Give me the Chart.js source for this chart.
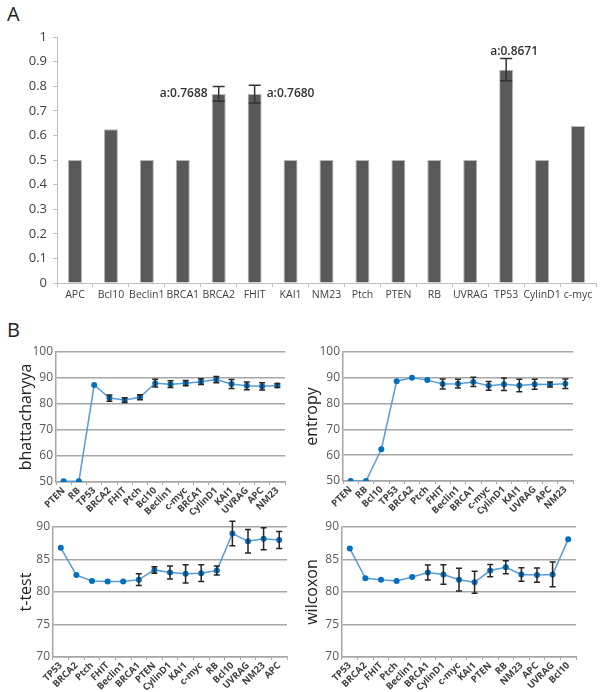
<!DOCTYPE html>
<html lang="en">
<head>
<meta charset="UTF-8">
<title>Gene scores</title>
<script src="https://cdn.jsdelivr.net/npm/chart.js"></script>
<style>
  body { margin: 0; background: #fff; }
  #wrap { position: relative; width: 600px; height: 692px; overflow: hidden; font-family: "Open Sans", sans-serif; }
  canvas { position: absolute; }
  .tag { position: absolute; font-size: 20px; color: #222; }
</style>
</head>
<body>
<div id="wrap">
  <div class="tag" style="left:7px;top:0px">A</div>
  <div class="tag" style="left:7px;top:316px">B</div>
  <canvas id="barA" style="left:0;top:0" width="600" height="310"></canvas>
  <canvas id="bh" style="left:0;top:340px" width="300" height="175"></canvas>
  <canvas id="en" style="left:300px;top:340px" width="300" height="175"></canvas>
  <canvas id="tt" style="left:0;top:515px" width="300" height="177"></canvas>
  <canvas id="wx" style="left:300px;top:515px" width="300" height="177"></canvas>
</div>
<script>
// panel A
const genesA = ['APC', 'Bcl10', 'Beclin1', 'BRCA1', 'BRCA2', 'FHIT', 'KAI1', 'NM23', 'Ptch', 'PTEN', 'RB', 'UVRAG', 'TP53', 'CylinD1', 'c-myc'];
const scoreA = [0.5, 0.625, 0.5, 0.5, 0.7688, 0.768, 0.5, 0.5, 0.5, 0.5, 0.5, 0.5, 0.8671, 0.5, 0.638];
const errA = [0, 0, 0, 0, 0.03, 0.036, 0, 0, 0, 0, 0, 0, 0.045, 0, 0];
const noteA = ['', '', '', '', 'a:0.7688', 'a:0.7680', '', '', '', '', '', '', 'a:0.8671', '', ''];
const ticksA = [0, 0.1, 0.2, 0.3, 0.4, 0.5, 0.6, 0.7, 0.8, 0.9, 1];

// panel B
const genesBh = ['PTEN', 'RB', 'TP53', 'BRCA2', 'FHIT', 'Ptch', 'Bcl10', 'Beclin1', 'c-myc', 'BRCA1', 'CylinD1', 'KAI1', 'UVRAG', 'APC', 'NM23'];
const valBh = [50.3, 50.3, 87.3, 82.3, 81.5, 82.6, 88.0, 87.6, 88.0, 88.6, 89.4, 87.7, 87.0, 86.8, 87.1];
const errBh = [0, 0, 0, 1.2, 0.9, 1.0, 1.5, 1.3, 1.0, 1.1, 1.2, 1.7, 1.5, 1.4, 0.8];

const genesEn = ['PTEN', 'RB', 'Bcl10', 'TP53', 'BRCA2', 'Ptch', 'FHIT', 'Beclin1', 'BRCA1', 'c-myc', 'CylinD1', 'KAI1', 'UVRAG', 'APC', 'NM23'];
const valEn = [50, 50, 62.3, 88.7, 90.0, 89.1, 87.6, 87.7, 88.4, 86.9, 87.5, 87.0, 87.5, 87.4, 87.7];
const errEn = [0, 0, 0, 0, 0, 0, 1.9, 1.7, 1.8, 1.7, 2.4, 2.4, 1.9, 1.0, 1.8];

const genesTt = ['TP53', 'BRCA2', 'Ptch', 'FHIT', 'Beclin1', 'BRCA1', 'PTEN', 'CylinD1', 'KAI1', 'c-myc', 'RB', 'Bcl10', 'UVRAG', 'NM23', 'APC'];
const valTt = [86.8, 82.6, 81.7, 81.6, 81.6, 81.9, 83.4, 83.0, 82.8, 82.9, 83.3, 89.0, 87.8, 88.2, 88.0];
const errTt = [0, 0, 0, 0, 0, 0.9, 0.5, 1.0, 1.4, 1.3, 0.7, 1.9, 1.8, 1.7, 1.3];

const genesWx = ['TP53', 'BRCA2', 'FHIT', 'Ptch', 'Beclin1', 'BRCA1', 'CylinD1', 'c-myc', 'KAI1', 'PTEN', 'RB', 'NM23', 'APC', 'UVRAG', 'Bcl10'];
const valWx = [86.7, 82.1, 81.9, 81.7, 82.3, 83.0, 82.7, 81.9, 81.5, 83.3, 83.8, 82.7, 82.6, 82.7, 88.1];
const errWx = [0, 0, 0, 0, 0, 1.15, 1.5, 1.75, 1.7, 0.95, 1.0, 1.05, 1.1, 1.9, 0];

// error bars + bar notes, drawn through the chart scales
const errPlugin = {
  id: 'errbars',
  afterDatasetsDraw(chart, args, opts) {
    if (!opts.err) return;
    const ctx = chart.ctx, x = chart.scales.x, y = chart.scales.y;
    const vals = chart.data.datasets[0].data;
    ctx.save();
    ctx.strokeStyle = opts.color;
    ctx.lineWidth = opts.width;
    opts.err.forEach((e, i) => {
      if (!e) return;
      const px = x.getPixelForValue(i);
      const top = y.getPixelForValue(vals[i] + e), bot = y.getPixelForValue(vals[i] - e);
      ctx.beginPath();
      ctx.moveTo(px, top); ctx.lineTo(px, bot);
      ctx.moveTo(px - opts.cap, top); ctx.lineTo(px + opts.cap, top);
      ctx.moveTo(px - opts.cap, bot); ctx.lineTo(px + opts.cap, bot);
      ctx.stroke();
    });
    if (opts.notes) {
      ctx.fillStyle = '#333';
      ctx.font = '600 12px "Open Sans"';
      ctx.textBaseline = 'middle';
      const half = x.width / vals.length * 0.39 / 2;
      opts.notes.forEach((t, i) => {
        if (!t) return;
        const px = x.getPixelForValue(i);
        const side = opts.sides[i];
        if (side === 'left') {
          ctx.textAlign = 'right';
          ctx.fillText(t, px - half - 4, y.getPixelForValue(vals[i]));
        } else if (side === 'right') {
          ctx.textAlign = 'left';
          ctx.fillText(t, px + half + 5, y.getPixelForValue(vals[i]));
        } else {
          ctx.textAlign = 'center';
          ctx.fillText(t, px + 8, y.getPixelForValue(vals[i] + errA[i]) - 7);
        }
      });
    }
    ctx.restore();
  }
};
Chart.register(errPlugin);

new Chart(document.getElementById('barA'), {
  type: 'bar',
  data: {
    labels: genesA,
    datasets: [{
      data: scoreA,
      backgroundColor: '#595959',
      borderColor: '#b8b8b8',
      borderWidth: 1,
      barPercentage: 0.39,
      categoryPercentage: 1
    }]
  },
  options: {
    responsive: false,
    animation: false,
    layout: { padding: { top: 37, right: 4, left: 0, bottom: 0 } },
    plugins: {
      legend: { display: false },
      tooltip: { enabled: false },
      errbars: {
        err: errA, color: '#333', width: 1.5, cap: 6,
        notes: noteA,
        sides: ['', '', '', '', 'left', 'right', '', '', '', '', '', '', 'top', '', '']
      }
    },
    scales: {
      x: {
        grid: { drawOnChartArea: false, color: '#bfbfbf', tickLength: 4 },
        border: { color: '#bfbfbf' },
        ticks: { color: '#404040', font: { family: 'Open Sans', size: 10.5 }, maxRotation: 0, padding: 2, autoSkip: false },
        afterFit: s => { s.height = 27; }
      },
      y: {
        min: 0, max: 1,
        afterBuildTicks: s => { s.ticks = ticksA.map(v => ({ value: v })); },
        grid: { drawOnChartArea: false, color: '#bfbfbf', tickLength: 4 },
        border: { color: '#bfbfbf' },
        ticks: { color: '#404040', font: { family: 'Open Sans', size: 13 }, padding: 6, callback: v => String(v) },
        afterFit: s => { s.width = 57; }
      }
    }
  }
});

function lineChart(id, labels, vals, errs, yMin, yMax, step, title, box) {
  new Chart(document.getElementById(id), {
    type: 'line',
    data: {
      labels: labels,
      datasets: [{
        data: vals,
        borderColor: '#5b9bd5',
        borderWidth: 1.5,
        pointRadius: 3,
        pointBackgroundColor: '#0070c0',
        pointBorderColor: '#0070c0',
        pointBorderWidth: 0,
        tension: 0
      }]
    },
    options: {
      responsive: false,
      animation: false,
      layout: { padding: { top: box.top, right: box.right, left: 0, bottom: 0 } },
      plugins: {
        legend: { display: false },
        tooltip: { enabled: false },
        errbars: { err: errs, color: '#262626', width: 1.5, cap: 3 }
      },
      scales: {
        x: {
          offset: true,
          grid: { display: true, drawOnChartArea: false, offset: true, color: '#a6a6a6', tickLength: 3 },
          border: { color: '#a6a6a6', width: 1.5 },
          ticks: { color: '#404040', font: { family: 'Open Sans', size: 9.5, weight: 'bold' }, minRotation: 45, maxRotation: 45, padding: 0, autoSkip: false },
          afterFit: s => { s.height = box.xh; }
        },
        y: {
          min: yMin, max: yMax,
          ticks: { stepSize: step, color: '#595959', font: { family: 'Open Sans', size: 12 }, padding: 3 },
          grid: { color: '#a6a6a6', lineWidth: 1.5, drawTicks: false },
          border: { color: '#a6a6a6', width: 1.5 },
          title: { display: true, text: title, color: '#222', font: { family: 'Open Sans', size: 16 }, padding: { top: box.tp, bottom: 0 } },
          afterFit: s => { s.width = box.yw; }
        }
      }
    }
  });
}

lineChart('bh', genesBh, valBh, errBh, 50, 100, 10, 'bhattacharyya', { top: 12, right: 15, xh: 33, yw: 56, tp: 17 });
lineChart('en', genesEn, valEn, errEn, 50, 100, 10, 'entropy', { top: 12, right: 27, xh: 34, yw: 43, tp: 3 });
lineChart('tt', genesTt, valTt, errTt, 70, 90, 5, 't-test', { top: 12, right: 13, xh: 35, yw: 53, tp: 17 });
lineChart('wx', genesWx, valWx, errWx, 70, 90, 5, 'wilcoxon', { top: 12, right: 24, xh: 35, yw: 42, tp: 3 });
</script>
</body>
</html>
